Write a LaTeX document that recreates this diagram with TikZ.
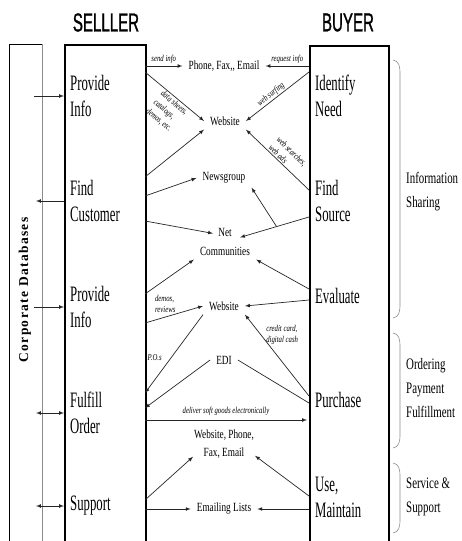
\documentclass[tikz,border=0pt]{standalone}
\usepackage{fontspec}
\setmainfont{Liberation Serif}
\newfontfamily\steplbl[FakeStretch=0.58]{Liberation Serif}
\newfontfamily\midlbl[FakeStretch=0.74]{Liberation Serif}
\newfontfamily\notelbl[FakeStretch=0.75]{Liberation Serif}
\newfontfamily\sidelbl[FakeStretch=0.68]{Liberation Serif}
\newfontfamily\headlbl[FakeStretch=0.58, FakeBold=1]{Liberation Sans}
\newfontfamily\dblbl[LetterSpace=10]{Liberation Serif}
\usetikzlibrary{arrows, calc}

\begin{document}
\begin{tikzpicture}[x=1pt, y=-1pt]
    \tikzset{
        column/.style = {rectangle, draw=black, line width=1.6pt, anchor=north west, minimum height=540pt},
        steptext/.style = {anchor=west, align=left, inner sep=0pt, font=\steplbl\fontsize{22}{26}\selectfont},
        channel/.style = {align=center, inner xsep=6pt, inner ysep=4pt, font=\midlbl\fontsize{12.5}{18.5}\selectfont},
        note/.style = {align=left, inner sep=1pt, font=\notelbl\itshape\fontsize{9}{11.5}\selectfont},
        phase/.style = {anchor=west, align=left, inner sep=0pt, font=\sidelbl\fontsize{16}{24}\selectfont},
        header/.style = {inner sep=0pt, font=\headlbl\fontsize{26}{26}\selectfont},
        line/.style = {draw=black!85, line width=0.7pt, -latex},
        plain/.style = {draw=black!85, line width=0.7pt},
        brace/.style = {draw=black!45, line width=0.6pt}
    }
    \useasboundingbox (0,0) rectangle (461,541);

    % databases, seller and buyer columns
    \node[rectangle, draw=black, line width=0.5pt, anchor=north west, minimum width=33pt, minimum height=540pt](db) at (9,44){};
    \draw[draw=black!45, line width=0.8pt] (db.north east) -- (db.south east);
    \node[rotate=90, font=\dblbl\bfseries\fontsize{13.5}{13.5}\selectfont](dbtext) at (25,290){Corporate Databases};

    \node[column, minimum width=81pt](seller) at (64,44){};
    \node[column, minimum width=79pt](buyer) at (309,45){};

    \node[header](sellerhead) at (106,22.5){SELLLER};
    \node[header](buyerhead) at (348,22.5){BUYER};

    % steps
    \node[steptext](pinfo1) at (70,96){Provide\\Info};
    \node[steptext](fcust) at (70,201){Find\\Customer};
    \node[steptext](pinfo2) at (70,307){Provide\\Info};
    \node[steptext](forder) at (70,413){Fulfill\\Order};
    \node[steptext](support) at (70,506){Support};

    \node[steptext](ineed) at (315,96){Identify\\Need};
    \node[steptext](fsource) at (315,201){Find\\Source};
    \node[steptext](evaluate) at (315,296){Evaluate};
    \node[steptext](purchase) at (315,400){Purchase};
    \node[steptext](usemaint) at (315,497){Use,\\Maintain};

    % channels
    \node[channel](phone) at (224,66){Phone, Fax,, Email};
    \node[channel](web1) at (225,121){Website};
    \node[channel](news) at (224,178){Newsgroup};
    \node[channel](netcom) at (225,242){Net\\Communities};
    \node[channel](web2) at (224,306){Website};
    \node[channel](edi) at (224,360){EDI};
    \node[channel](webphone) at (224,444){Website, Phone,\\Fax, Email};
    \node[channel](maillist) at (224,509){Emailing Lists};

    % phases
    \node[phase](infoshare) at (406,192){Information\\Sharing};
    \node[phase](ordering) at (406,388){Ordering\\Payment\\Fulfillment};
    \node[phase](service) at (406,497){Service \&\\Support};

    \draw[brace] (393,60) .. controls (399,61) and (400,66) .. (400,74) -- (400,304) .. controls (400,312) and (399,317) .. (393,318);
    \draw[brace] (393,333) .. controls (399,334) and (400,339) .. (400,347) -- (400,434) .. controls (400,442) and (399,447) .. (393,448);
    \draw[brace] (393,463) .. controls (399,464) and (400,469) .. (400,477) -- (400,519) .. controls (400,527) and (399,532) .. (393,533);

    % ends on the columns
    \coordinate (dbout) at (34,0);
    \coordinate (dbin) at (36,0);
    \foreach \name/\y in {send/66, sheets/72, web/177, news/196, net/221, comm/294, web2/323, po/393, edi/408, deliver/420, help/500, mail/509}
        \coordinate (s_\name) at (145,\y);
    \foreach \name/\y in {request/66, surf/72, search/190, net/217, eval/289, web2/300, pay/396, edi/403, help/496, mail/509}
        \coordinate (b_\name) at (309,\y);
    \coordinate (b_deliver) at (307,420);

    \path [line] (dbout |- pinfo1) -- (seller.west |- pinfo1);
    \path [line] (seller.west |- fcust) -- (dbin |- fcust);
    \path [line] (dbout |- pinfo2) -- (seller.west |- pinfo2);
    \path [line, latex-latex] (dbin |- forder) -- (seller.west |- forder);
    \path [line, latex-latex] (dbin |- support) -- (seller.west |- support);

    \path [line] (s_send) -- node[note, above=1pt]{send info} (phone);
    \path [line] (b_request) -- node[note, above=1pt]{request info} (phone);
    \path [line] (s_sheets) -- node[note, sloped, below, pos=0.55]{data sheets,\\catalogs,\\demos, etc.} (web1.west);
    \path [line] (b_surf) -- node[note, sloped, above, pos=0.55]{web surfing} (web1.east);
    \path [line] (s_web) -- (web1.south west);
    \path [line] (b_search) -- node[note, sloped, above, pos=0.45]{web searches,\\web ads} (web1.south east);

    \path [line] (s_news) -- (news.west);
    \path [line] (s_net) -- ($(netcom.north)+(-12,9)$);
    \path [line] (b_net) -- ($(netcom.north)+(15,13)$);
    \path [line] ($(b_net)!0.47!($(netcom.north)+(15,13)$)$) -- (news.south east);
    \path [line] (s_comm) -- (netcom.south west);
    \path [line] (b_eval) -- (netcom.south east);

    \path [line] (s_web2) -- node[note, above=3pt, pos=0.35]{demos,\\reviews} (web2.west);
    \path [line] (b_web2) -- (web2.east);
    \path [line] (web2.south west) -- node[note, left=8pt, pos=0.55]{P.O.s} (s_po);
    \path [line] (b_pay) -- node[note, right=4pt, pos=0.75]{credit card,\\digital cash} (web2.south east);

    \path [line] (edi.west) -- (s_edi);
    \path [plain] (edi.east) -- (b_edi);
    \path [line] (s_deliver) -- node[note, above=3pt]{deliver soft goods electronically} (b_deliver);

    \path [line] (s_help) -- ($(webphone.south)+(-31,-6)$);
    \path [line] (b_help) -- ($(webphone.south)+(31,-7)$);
    \path [line] (s_mail) -- (maillist.west);
    \path [line] (b_mail) -- (maillist.east);

\end{tikzpicture}
\end{document}
